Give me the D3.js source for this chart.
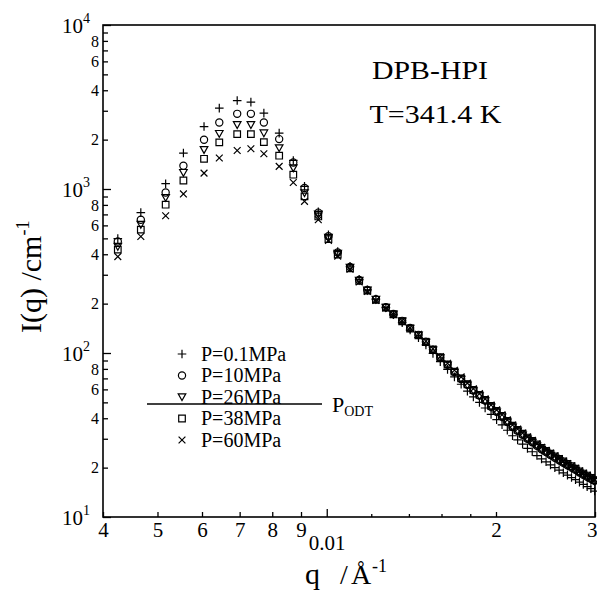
<!DOCTYPE html>
<html><head><meta charset="utf-8">
<script src="https://cdn.jsdelivr.net/npm/d3@7"></script>
<style>body{margin:0;background:#fff}svg{display:block}text{font-family:"Liberation Serif","Times New Roman",serif;fill:#000}</style>
</head><body><svg id="c" width="597" height="590"></svg>
<script>
const q = [0.00425,0.00467,0.00517,0.00556,0.00605,0.00644,0.00693,0.00733,0.00773,0.00823,0.00872,0.00913,0.00966,
0.01007,0.01046,0.01100,0.01142,0.01181,0.01223,0.01274,0.01314,0.01362,0.01407,0.01456,0.01501,0.01545,0.01592,0.01640,0.01687,0.01734,0.01779,0.01823,0.01869,0.01913,
0.01960,0.02005,0.02050,0.02095,0.02140,0.02185,0.02230,0.02275,0.02320,0.02365,0.02410,0.02455,0.02500,0.02545,0.02590,0.02635,0.02680,0.02725,0.02770,0.02815,0.02860,0.02905,0.02950,0.02995];
const P01 = [498,718,1077,1656,2404,3112,3463,3388,2901,2191,1493,1037,727,
525,415,338,281,243,213,189,171,153,138,124,112,99.5,88.5,79.5,71.5,64.5,58.5,54,50,46.2,
42.2,39.2,36.5,33.8,31.3,29.5,27.8,26.2,25.0,23.7,22.6,21.7,20.8,20.0,19.3,18.6,18.0,17.4,16.9,16.3,15.8,15.3,14.9,14.4];
const P10 = [478,650,953,1386,1995,2543,2873,2873,2543,2015,1452,1015,718,
515,410,335,279,242,213,190,173,157,142,129,117,105,94,85,76.5,69.5,64,59,55,51.3,
47,43.8,40.8,38,35.4,33.5,31.7,30,28.6,27.2,25.9,24.9,23.9,23.0,22.2,21.4,20.7,20.0,19.4,18.7,18.1,17.6,17.1,16.6];
const P26 = [445,606,885,1257,1734,2173,2462,2462,2191,1778,1342,945,700,
505,404,332,277,241,212,189,172,156,141,128,116,104,93,84,76,69,63.5,58.6,54.6,50.9,
46.7,43.5,40.6,37.8,35.2,33.3,31.5,29.8,28.4,27.0,25.7,24.7,23.7,22.8,22.0,21.2,20.5,19.8,19.2,18.5,17.9,17.4,16.9,16.4];
const P38 = [427,565,802,1127,1528,1925,2161,2161,1930,1596,1222,902,680,
495,398,328,275,240,211,189,172,156,141,128,116.5,104.5,94,85,77,70,64.5,59.5,55.5,51.8,
47.6,44.4,41.4,38.6,36,34,32.2,30.5,29.1,27.7,26.4,25.3,24.3,23.4,22.6,21.8,21.1,20.4,19.7,19.0,18.4,17.9,17.3,16.8];
const P60 = [387,513,687,933,1250,1546,1718,1759,1641,1374,1096,841,650,
485,390,324,271,237,209,188,172,157,142,130,118,106,95,86.5,78.5,71.5,65.5,60.5,56.5,52.5,
48.2,45,42,39.1,36.4,34.4,32.5,30.8,29.3,27.9,26.6,25.5,24.5,23.6,22.7,21.9,21.2,20.5,19.8,19.1,18.5,18.0,17.4,16.9];
const seriesNames = ["P=0.1MPa","P=10MPa","P=26MPa","P=38MPa","P=60MPa"];
const seriesShapes = ["plus","circle","tri","square","cross"];
const xTickVals = [0.004,0.005,0.006,0.007,0.008,0.009,0.02,0.03];
const xTickLabels = ["4","5","6","7","8","9","2","3"];
const xMinorVals = [0.012,0.014,0.016,0.018];
const xMajorVals = [0.01];
const xMajorLabel = "0.01";
const yMajorVals = [10,100,1000,10000];
const yMajorExp = ["1","2","3","4"];
const yMinorVals = [20,30,40,50,60,70,80,90,200,300,400,500,600,700,800,900,2000,3000,4000,5000,6000,7000,8000,9000];
const yMinorLabels = {20:"2",40:"4",60:"6",80:"8",200:"2",400:"4",600:"6",800:"8",2000:"2",4000:"4",6000:"6",8000:"8"};

const svg = d3.select("#c");
svg.append("rect").attr("width",597).attr("height",590).attr("fill","#fff");
const L=103,R=595,T=25,B=517;
const x = d3.scaleLog().domain([0.004,0.03]).range([L,R]);
const y = d3.scaleLog().domain([10,10000]).range([B,T]);

// frame
svg.append("rect").attr("x",L).attr("y",T).attr("width",R-L).attr("height",B-T)
  .attr("fill","none").attr("stroke","#000").attr("stroke-width",1.6);

// x axis
const gx = svg.append("g").attr("transform",`translate(0,${B})`);
gx.append("g").call(d3.axisBottom(x).tickValues(xTickVals).tickSize(-5).tickPadding(5)
  .tickFormat((d,i)=>xTickLabels[i]));
gx.append("g").call(d3.axisBottom(x).tickValues(xMinorVals).tickSize(-3).tickFormat(""));
gx.append("g").call(d3.axisBottom(x).tickValues(xMajorVals).tickSize(-8).tickPadding(18).tickFormat(()=>xMajorLabel));
gx.selectAll(".domain").remove();
gx.selectAll("line").attr("stroke","#000").attr("stroke-width",1.3);
gx.selectAll("text").attr("font-size",16).attr("font-family","Liberation Serif");
gx.selectAll("g:nth-child(3) text").attr("font-size",21);
gx.selectAll(".tick").filter(d=>d===0.03).select("text").attr("text-anchor","end").attr("x",2);

// y axis
const gy = svg.append("g").attr("transform",`translate(${L},0)`);
gy.append("g").call(d3.axisLeft(y).tickValues(yMinorVals).tickSize(-5).tickPadding(4)
  .tickFormat(d=>yMinorLabels[d]||""));
gy.append("g").call(d3.axisLeft(y).tickValues(yMajorVals).tickSize(-8).tickFormat(""));
gy.selectAll(".domain").remove();
gy.selectAll("line").attr("stroke","#000").attr("stroke-width",1.3);
gy.selectAll("text").attr("font-size",16).attr("font-family","Liberation Serif");
yMajorVals.forEach((v,i)=>{
  const t = svg.append("text").attr("x",62).attr("y",y(v)+8).attr("font-size",21);
  t.append("tspan").text("10");
  t.append("tspan").attr("font-size",14).attr("dy",-10).text(yMajorExp[i]);
});

// markers
function sym(sel,shape){
  const p = {
    plus:"M-4.3,0H4.3M0,-4.3V4.3",
    tri:"M-3.8,-3.2L3.8,-3.2L0,3.6Z",
    square:"M-3.3,-3.3H3.3V3.3H-3.3Z",
    cross:"M-3.4,-3.4L3.4,3.4M-3.4,3.4L3.4,-3.4"
  };
  if(shape==="circle") return sel.append("circle").attr("r",3.6).attr("fill","none").attr("stroke","#000").attr("stroke-width",1.2);
  return sel.append("path").attr("d",p[shape]).attr("fill","none").attr("stroke","#000").attr("stroke-width",1.2);
}
const allSeries = [P01,P10,P26,P38,P60];
allSeries.forEach((vals,si)=>{
  const g = svg.append("g");
  vals.forEach((v,i)=>{
    const m = g.append("g").attr("transform",`translate(${x(q[i])},${y(v)})`);
    sym(m,seriesShapes[si]);
  });
});

// legend
const legRows = [354,375.5,397,418.5,440];
seriesNames.forEach((n,i)=>{
  const m = svg.append("g").attr("transform",`translate(182,${legRows[i]})`);
  sym(m,seriesShapes[i]);
  svg.append("text").attr("x",201).attr("y",legRows[i]+6.5).attr("font-size",20).text(n);
});
svg.append("line").attr("x1",147).attr("x2",322).attr("y1",404).attr("y2",404)
  .attr("stroke","#000").attr("stroke-width",1.5);
const pt = svg.append("text").attr("x",332).attr("y",412).attr("font-size",22);
pt.append("tspan").text("P");
pt.append("tspan").attr("font-size",14).attr("dy",4).text("ODT");

// titles
svg.append("text").attr("x",372).attr("y",78.5).attr("font-size",25)
  .attr("textLength",116).attr("lengthAdjust","spacingAndGlyphs").text("DPB-HPI");
svg.append("text").attr("x",369.5).attr("y",122.7).attr("font-size",26)
  .attr("textLength",132).attr("lengthAdjust","spacingAndGlyphs").text("T=341.4 K");

// x label
svg.append("text").attr("x",305).attr("y",584).attr("font-size",30).text("q");
svg.append("text").attr("x",340).attr("y",584).attr("font-size",28).text("/");
svg.append("text").attr("x",351).attr("y",584).attr("font-size",28).text("Å");
svg.append("text").attr("x",372).attr("y",572).attr("font-size",18).text("-1");

// y label
const yl = svg.append("text").attr("transform","translate(41,333) rotate(-90)").attr("font-size",30);
yl.append("tspan").text("I(q) /cm");
yl.append("tspan").attr("font-size",18).attr("dy",-12).text("-1");
</script></body></html>
